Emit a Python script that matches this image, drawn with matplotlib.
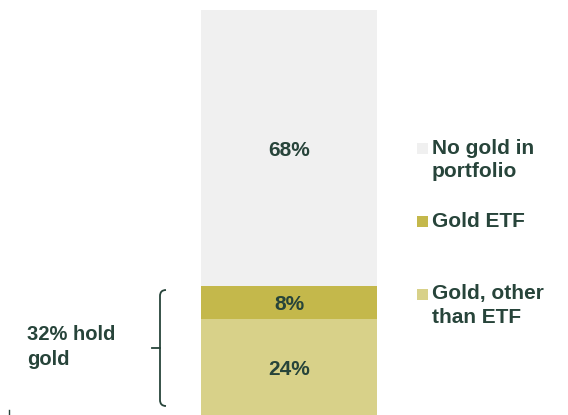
"""
Gold ownership stacked bar with side legend and bracket note.
"""
import matplotlib
matplotlib.use('Agg')
import matplotlib.pyplot as plt
import matplotlib.patches as mpatches
from matplotlib.path import Path

# data (bottom to top)
categories = ['Gold, other\nthan ETF', 'Gold ETF', 'No gold in\nportfolio']
shares = [24, 8, 68]
labels = ['24%', '8%', '68%']
colors = ['#D8D189', '#C4B84B', '#F0F0F0']
bracket_note = '32% hold\ngold'

TEXT = '#27443A'
W, H = 568, 415

plt.rcParams['font.family'] = ['Liberation Sans', 'DejaVu Sans']


def fx(x):
    return x / W


def fy(y):
    return 1 - y / H


fig = plt.figure(figsize=(W / 100, H / 100), dpi=100)
ax = fig.add_axes([0, 0, 1, 1])
ax.set_xlim(0, W)
# 0% sits a little below the bottom edge, 100% at pixel 10
px_per_pct = 406 / 100
ax.set_ylim(100 - (H - 10) / px_per_pct, 100 + 10 / px_per_pct)
ax.axis('off')

bottom = 0
for val, lab, col in zip(shares, labels, colors):
    ax.bar(289, val, width=176, bottom=bottom, color=col, linewidth=0)
    ax.text(289, bottom + val / 2, lab, ha='center', va='center_baseline',
            fontsize=15, fontweight='bold', color=TEXT)
    bottom += val

# legend on the right (top entry first): text block centre, square top
legend_rows = [(160, 143), (221, 216), (305.5, 289)]
for (ty, sy), cat, col in zip(legend_rows, categories[::-1], colors[::-1]):
    fig.patches.append(mpatches.Rectangle((fx(417), fy(sy + 11)), 11 / W, 11 / H,
                                          transform=fig.transFigure,
                                          facecolor=col, edgecolor='none'))
    fig.text(fx(432), fy(ty), cat, ha='left', va='center', fontsize=15,
             fontweight='bold', color=TEXT, linespacing=1.3)

# bracket on the left
verts = [(fx(166), fy(290)), (fx(160), fy(290)), (fx(160), fy(296)),
         (fx(160), fy(400)), (fx(160), fy(406)), (fx(166), fy(406))]
codes = [Path.MOVETO, Path.CURVE3, Path.CURVE3,
         Path.LINETO, Path.CURVE3, Path.CURVE3]
fig.patches.append(mpatches.PathPatch(Path(verts, codes), transform=fig.transFigure,
                                      facecolor='none', edgecolor=TEXT, linewidth=1.3))
fig.lines.append(plt.Line2D([fx(152), fx(160)], [fy(348), fy(348)],
                            transform=fig.transFigure, color=TEXT, linewidth=1.3))
fig.text(fx(27), fy(347), bracket_note, ha='left', va='center', fontsize=14.5,
         fontweight='bold', color=TEXT, linespacing=1.34)

# stray tick mark bottom left
fig.lines.append(plt.Line2D([fx(8.5), fx(8.5)], [fy(410), fy(415)],
                            transform=fig.transFigure, color=TEXT, linewidth=1))

fig.savefig('out.png', dpi=100, facecolor='white')
